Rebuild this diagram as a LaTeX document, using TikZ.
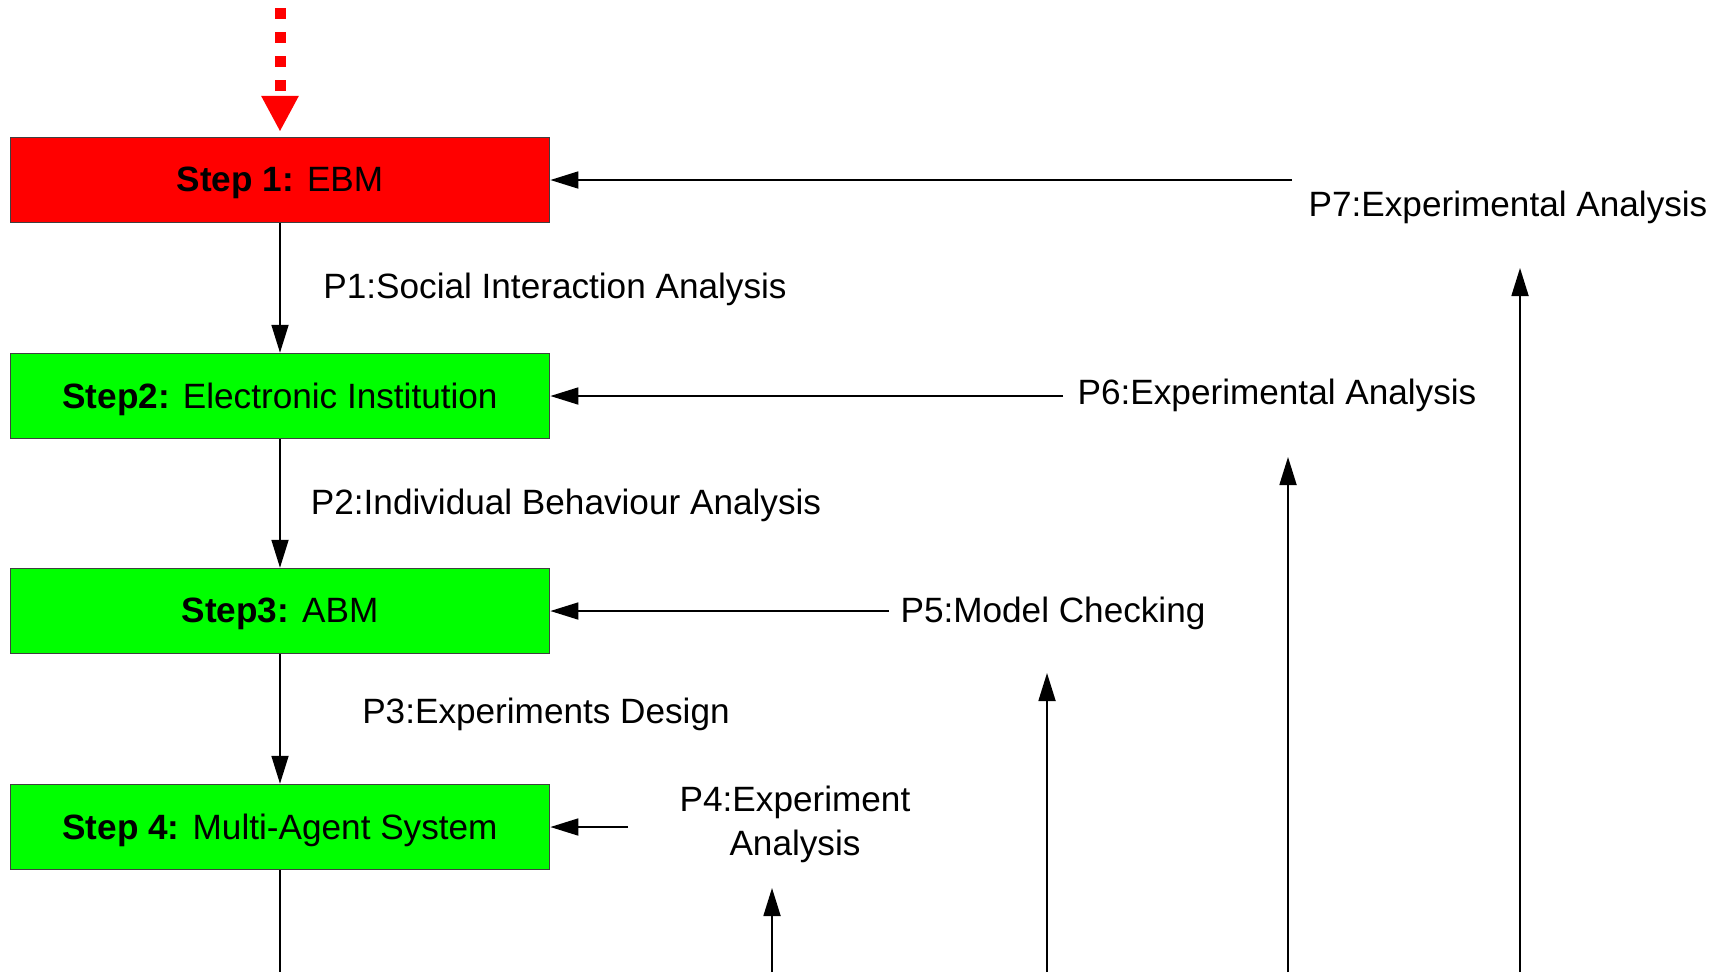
\documentclass[tikz,border=0pt]{standalone}
\usepackage{fontspec}
\setmainfont{Liberation Sans}
\usetikzlibrary{arrows.meta}

\tikzset{
  stepbox/.style={draw=black!75, line width=0.4pt, minimum width=5.39cm, minimum height=0.85cm, inner sep=0pt, text depth=0.4pt},
  arr/.style={line width=0.5pt, -{Triangle[length=0.28cm,width=0.17cm]}},
  lbl/.style={inner sep=0pt, align=center}
}

\begin{document}
\begin{tikzpicture}[x=0.01cm, y=-0.01cm, font=\fontsize{10pt}{12.5pt}\selectfont]
\useasboundingbox (0,0) rectangle (1728,972);

% the four steps
\node[stepbox, fill=red]   (ebm) at (280,180) {\textbf{Step 1:} EBM};
\node[stepbox, fill=green] (ei)  at (280,396) {\textbf{Step2:} Electronic Institution};
\node[stepbox, fill=green] (abm) at (280,611) {\textbf{Step3:} ABM};
\node[stepbox, fill=green] (mas) at (280,827) {\textbf{Step 4:} Multi-Agent System};

% entry arrow
\coordinate (entry) at (280,8);
\draw[red, line width=0.11cm, dash pattern=on 0.107cm off 0.133cm, shorten >=0.05cm,
      -{Triangle[length=0.36cm,width=0.35cm]}] (entry) -- (ebm.north);

% forward phases
\draw[arr] (ebm) -- (ei);
\draw[arr] (ei) -- (abm);
\draw[arr] (abm) -- (mas);
\coordinate (masout) at (280,972);
\draw[line width=0.5pt] (mas) -- (masout);

\node[lbl] (p1) at (555,289) {P1:Social Interaction Analysis};
\node[lbl] (p2) at (566,505) {P2:Individual Behaviour Analysis};
\node[lbl] (p3) at (546,714) {P3:Experiments Design};

% feedback phases
\node[lbl] (p4) at (795,824) {P4:Experiment\\Analysis};
\node[lbl] (p5) at (1053,613) {P5:Model Checking};
\node[lbl] (p6) at (1277,395) {P6:Experimental Analysis};
\node[lbl] (p7) at (1508,207) {P7:Experimental Analysis};

\coordinate (fb4) at (628,827);
\coordinate (fb5) at (889,611);
\coordinate (fb6) at (1063,396);
\coordinate (fb7) at (1292,180);

\draw[arr] (fb4) -- (mas.east);
\draw[arr] (fb5) -- (abm.east);
\draw[arr] (fb6) -- (ei.east);
\draw[arr] (fb7) -- (ebm.east);

\coordinate (out4)    at (772,972);
\coordinate (out4top) at (772,888);
\coordinate (out5)    at (1047,972);
\coordinate (out5top) at (1047,673);
\coordinate (out6)    at (1288,972);
\coordinate (out6top) at (1288,457);
\coordinate (out7)    at (1520,972);
\coordinate (out7top) at (1520,268);

\draw[arr] (out4) -- (out4top);
\draw[arr] (out5) -- (out5top);
\draw[arr] (out6) -- (out6top);
\draw[arr] (out7) -- (out7top);
\end{tikzpicture}
\end{document}
